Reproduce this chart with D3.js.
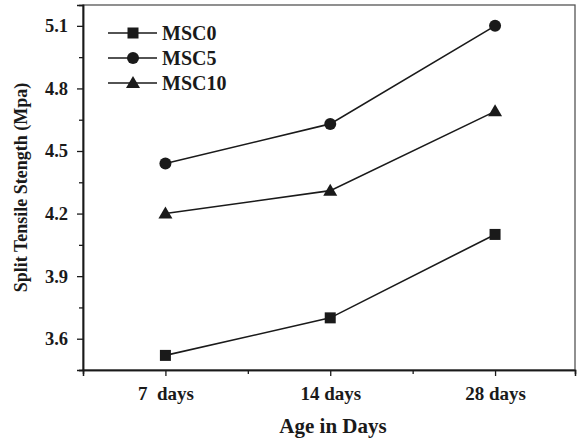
<!DOCTYPE html>
<html>
<head>
<meta charset="utf-8">
<script src="https://cdn.jsdelivr.net/npm/d3@7"></script>
<style>
  body { margin: 0; background: #fff; }
  svg { display: block; font-family: "Liberation Serif", "Times New Roman", serif; font-weight: bold; }
</style>
</head>
<body>
<div id="chart"></div>
<script>
const ages = ["7  days", "14 days", "28 days"]
const msc0 = [3.52, 3.70, 4.10]
const msc5 = [4.44, 4.63, 5.10]
const msc10 = [4.20, 4.31, 4.69]
const yTicks = [3.6, 3.9, 4.2, 4.5, 4.8, 5.1]
const yMinor = [3.45, 3.75, 4.05, 4.35, 4.65, 4.95]

const series = [
  { name: "MSC0", values: msc0, marker: "square" },
  { name: "MSC5", values: msc5, marker: "circle" },
  { name: "MSC10", values: msc10, marker: "triangle" },
]

const width = 577, height = 441
const plot = { left: 83, right: 575, top: 5, bottom: 370 }
const ink = "#1a1a1a"

const svg = d3.select("#chart").append("svg")
  .attr("width", width).attr("height", height)

const x = d3.scaleLinear().domain([0.5, 3.485]).range([plot.left, plot.right])
const y = d3.scaleLinear().domain([3.45, 5.2]).range([plot.bottom, plot.top])

// frame
svg.append("rect")
  .attr("x", plot.left).attr("y", plot.top)
  .attr("width", plot.right - plot.left).attr("height", plot.bottom - plot.top)
  .attr("fill", "none").attr("stroke", "#555").attr("stroke-width", 1.3)

// y axis
const yAxis = svg.append("g").attr("transform", `translate(${plot.left},0)`)
yAxis.call(d3.axisLeft(y).tickValues(yTicks).tickSize(6).tickPadding(9).tickFormat(d3.format(".1f")))
yAxis.append("g").call(d3.axisLeft(y).tickValues(yMinor).tickSize(4).tickFormat(""))
yAxis.selectAll(".domain").attr("stroke", ink).attr("stroke-width", 1.5)
yAxis.selectAll("line").attr("stroke", ink).attr("stroke-width", 1.3)
yAxis.selectAll("text").attr("font-size", 18.5).attr("font-family", "Liberation Serif").attr("font-weight", "bold").attr("fill", ink)

// x axis
const xAxis = svg.append("g").attr("transform", `translate(0,${plot.bottom})`)
xAxis.call(d3.axisBottom(x).tickValues([1, 2, 3]).tickSize(6).tickPadding(11).tickFormat((d, i) => ages[i]))
xAxis.append("g").call(d3.axisBottom(x).tickValues([1.5, 2.5]).tickSize(4).tickFormat(""))
xAxis.selectAll(".domain").attr("stroke", ink).attr("stroke-width", 1.5)
xAxis.selectAll("line").attr("stroke", ink).attr("stroke-width", 1.3)
xAxis.selectAll("text").attr("font-size", 19).attr("font-family", "Liberation Serif").attr("font-weight", "bold").attr("fill", ink)
  .style("white-space", "pre").attr("xml:space", "preserve")

// titles
svg.append("text")
  .attr("transform", `translate(21,${(plot.top + plot.bottom) / 2}) rotate(-90)`)
  .attr("text-anchor", "middle").attr("dy", "0.35em")
  .attr("font-size", 18).attr("fill", ink)
  .text("Split Tensile Stength (Mpa)")

svg.append("text")
  .attr("x", 333).attr("y", 433)
  .attr("text-anchor", "middle")
  .attr("font-size", 21).attr("fill", ink)
  .text("Age in Days")

function drawMarker(g, type, cx, cy) {
  if (type === "square") {
    g.append("rect").attr("x", cx - 5.5).attr("y", cy - 5.5).attr("width", 11).attr("height", 11).attr("fill", ink)
  } else if (type === "circle") {
    g.append("circle").attr("cx", cx).attr("cy", cy).attr("r", 6).attr("fill", ink)
  } else {
    g.append("path").attr("d", `M${cx},${cy - 7}L${cx + 7},${cy + 5}L${cx - 7},${cy + 5}Z`).attr("fill", ink)
  }
}

const line = d3.line().x((d, i) => x(i + 1)).y(d => y(d))

series.forEach(s => {
  const g = svg.append("g")
  g.append("path").attr("d", line(s.values)).attr("fill", "none").attr("stroke", ink).attr("stroke-width", 1.6)
  s.values.forEach((v, i) => drawMarker(g, s.marker, x(i + 1), y(v)))
})

// legend
const legendY = [33, 58, 83]
series.forEach((s, i) => {
  const g = svg.append("g")
  g.append("line").attr("x1", 108).attr("x2", 157).attr("y1", legendY[i]).attr("y2", legendY[i])
    .attr("stroke", ink).attr("stroke-width", 1.6)
  drawMarker(g, s.marker, 133, legendY[i])
  g.append("text").attr("x", 162).attr("y", legendY[i]).attr("dy", "0.35em")
    .attr("font-size", 20).attr("fill", ink).text(s.name)
})
</script>
</body>
</html>
